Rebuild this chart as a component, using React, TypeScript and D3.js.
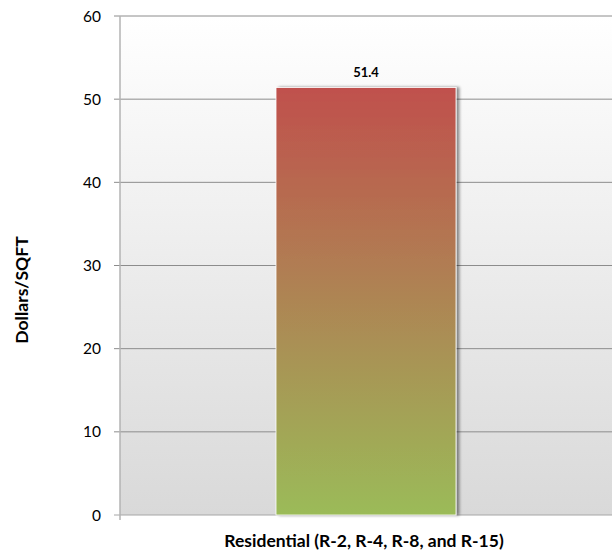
import React from "react";
import * as d3 from "d3";

const categories = ["Residential (R-2, R-4, R-8, and R-15)"];
const values = [51.4];
const yTicks = [0, 10, 20, 30, 40, 50, 60];
const yTitle = "Dollars/SQFT";

export default function App() {
  const W = 612, H = 552;
  const left = 120, right = 612, top = 16, bottom = 515;
  const y = d3.scaleLinear().domain([0, 60]).range([bottom, top]);
  const x = d3.scaleBand().domain(categories).range([left, right]).paddingInner(0.6).paddingOuter(0.3467);
  const font = "Lato, 'Open Sans', sans-serif";
  return (
    <svg width={W} height={H} style={{ position: "absolute", left: 0, top: 0 }}>
      <defs>
        <linearGradient id="bg" x1="0" y1="0" x2="0" y2="1">
          <stop offset="0" stopColor="#ffffff" />
          <stop offset="1" stopColor="#d9d9d9" />
        </linearGradient>
        <linearGradient id="bar" x1="0" y1="0" x2="0" y2="1">
          <stop offset="0" stopColor="#c0504d" />
          <stop offset="1" stopColor="#9bbb59" />
        </linearGradient>
        <filter id="sh" x="-10%" y="-10%" width="130%" height="130%">
          <feGaussianBlur in="SourceAlpha" stdDeviation="1.5" />
          <feOffset dx="3" dy="0" result="b" />
          <feComponentTransfer><feFuncA type="linear" slope="0.45" /></feComponentTransfer>
          <feMerge><feMergeNode /><feMergeNode in="SourceGraphic" /></feMerge>
        </filter>
      </defs>
      <rect x={left} y={top} width={right - left} height={bottom - top} fill="url(#bg)" />
      {yTicks.map((t) => (
        <g key={t}>
          <line x1={114} x2={right} y1={y(t)} y2={y(t)} stroke={t === 0 ? "#a6a6a6" : "#8c8c8c"} strokeWidth={1} />
          <text x={101} y={y(t)} dy="0.36em" textAnchor="end" fontFamily={font} fontSize={15.5} fill="#000">{t}</text>
        </g>
      ))}
      <line x1={left} x2={left} y1={top} y2={bottom + 5} stroke="#b3b3b3" strokeWidth={1.5} />
      {categories.map((c, i) => (
        <g key={c}>
          <rect x={x(c)} y={y(values[i])} width={x.bandwidth()} height={bottom - y(values[i])} fill="url(#bar)" stroke="#ffffff" strokeWidth={0.8} filter="url(#sh)" />
          <text x={(x(c) as number) + x.bandwidth() / 2} y={77} textAnchor="middle" fontFamily={font} fontWeight="bold" fontSize={13} fill="#000">{values[i]}</text>
          <text x={(x(c) as number) + x.bandwidth() / 2 - 2} y={547} textAnchor="middle" fontFamily={font} fontWeight="bold" fontSize={17.5} fill="#000">{c}</text>
        </g>
      ))}
      <text transform={`translate(28,290) rotate(-90)`} textAnchor="middle" fontFamily={font} fontWeight="bold" fontSize={17.5} fill="#000">{yTitle}</text>
    </svg>
  );
}
